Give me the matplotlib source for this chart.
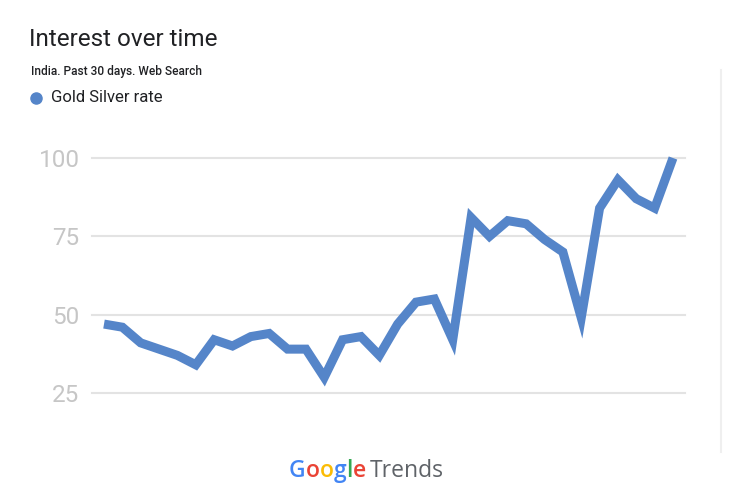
import matplotlib
matplotlib.use("Agg")
import matplotlib.pyplot as plt

# ---- data ----
series_name = "Gold Silver rate"
values = [47, 46, 41, 39, 37, 34, 42, 40, 43, 44, 39, 39, 30, 42, 43, 37,
          47, 54, 55, 42, 81, 75, 80, 79, 74, 70, 49, 84, 93, 87, 84, 100]
y_ticks = [25, 50, 75, 100]
title = "Interest over time"
subtitle = "India. Past 30 days. Web Search"

W, H = 730, 503
fig = plt.figure(figsize=(W / 100, H / 100), dpi=100)
fig.patch.set_facecolor("white")

def fx(px):
    return px / W

def fy(py):
    return 1 - py / H

n = len(values)
left_px, right_px = 92, 685
first_px, last_px = 104, 673
step = (last_px - first_px) / (n - 1)
xmin = -(first_px - left_px) / step
xmax = (n - 1) + (right_px - last_px) / step
top_px, bot_px = 158, 393
ax = fig.add_axes([fx(left_px), fy(bot_px), fx(right_px - left_px), (bot_px - top_px) / H])
ax.set_xlim(xmin, xmax)
ax.set_ylim(25, 100)
for s in ax.spines.values():
    s.set_visible(False)
ax.set_xticks([])
ax.set_yticks(y_ticks)
ax.set_yticklabels([str(v) for v in y_ticks])
ax.tick_params(axis="y", length=0, pad=9, labelsize=17.5, labelcolor="#c6c6c6")
for lab in ax.get_yticklabels():
    lab.set_fontfamily("Roboto")
for v in y_ticks:
    ax.axhline(v, color="#e3e3e3", lw=1.5, zorder=1, clip_on=False)
ax.plot(range(n), values, color="#5585c9", lw=6.5, solid_joinstyle="miter",
        solid_capstyle="butt", zorder=3, clip_on=False)

# header texts
fig.text(fx(29), fy(40), title, fontsize=17.5, family="Roboto", color="#202124",
         va="center", ha="left")
fig.text(fx(31), fy(71), subtitle, fontsize=8.6, family="Roboto", fontweight="medium",
         color="#202124", va="center", ha="left")
fig.add_artist(plt.Line2D([fx(36)], [fy(98)], marker="o", markersize=8,
                          color="#5585c9", linestyle="none"))
fig.text(fx(51), fy(98), series_name, fontsize=12, family="Roboto", color="#202124",
         va="center", ha="left")

# right card border
fig.add_artist(plt.Line2D([fx(721), fx(721)], [fy(70), fy(452)], color="#efefef", lw=1.5))

# Google Trends logo
renderer = fig.canvas.get_renderer()
letters = [("G", "#4285F4"), ("o", "#EA4335"), ("o", "#FBBC05"), ("g", "#4285F4"),
           ("l", "#34A853"), ("e", "#EA4335")]
x = fx(289)
ybase = fy(477)
for ch, col in letters:
    t = fig.text(x, ybase, ch, fontsize=16.5, family="Open Sans", fontweight="semibold",
                 color=col, va="baseline", ha="left")
    bb = t.get_window_extent(renderer)
    x += bb.width / W
x += 4 / W
fig.text(x, ybase, "Trends", fontsize=16.5, family="Open Sans", color="#5f6368",
         va="baseline", ha="left")

fig.savefig("out.png", dpi=100, facecolor="white")
